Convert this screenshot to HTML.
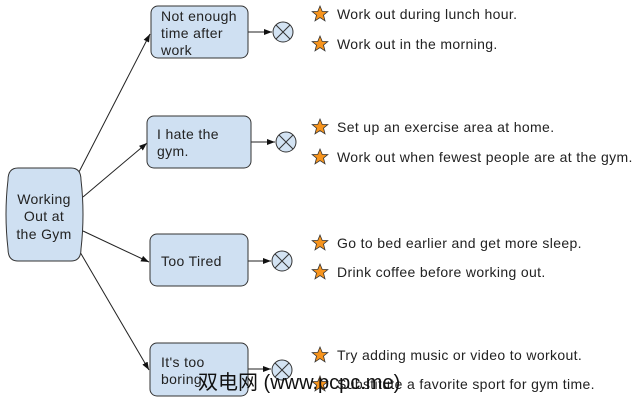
<!DOCTYPE html>
<html><head><meta charset="utf-8"><style>
html,body{margin:0;padding:0;background:#fff;width:640px;height:404px;overflow:hidden}
text{font-family:"Liberation Sans",sans-serif;font-size:14px;letter-spacing:0.35px;fill:#222}
</style></head><body>
<svg width="640" height="404" viewBox="0 0 640 404" xmlns="http://www.w3.org/2000/svg">
<defs>
<marker id="a" markerWidth="8" markerHeight="6" refX="8" refY="3" orient="auto" markerUnits="userSpaceOnUse"><path d="M0,0 L8,3 L0,6 Z" fill="#111"/></marker>
<path id="st" d="M0,-8 L2.2,-2.6 L7.8,-2.4 L3.5,1.1 L5,6.8 L0,3.6 L-5,6.8 L-3.5,1.1 L-7.8,-2.4 L-2.2,-2.6 Z" fill="#f7941d" stroke="#333" stroke-width="0.8"/>
<g id="cx"><circle r="10" fill="#d3e3f3" stroke="#333" stroke-width="1"/><path d="M-7,-7 L7,7 M7,-7 L-7,7" stroke="#333" stroke-width="1"/></g>
</defs>
<g stroke="#222" stroke-width="1" fill="none">
<line x1="79" y1="172" x2="150" y2="34" marker-end="url(#a)"/>
<line x1="83" y1="197" x2="147" y2="143" marker-end="url(#a)"/>
<line x1="83" y1="231" x2="149" y2="262" marker-end="url(#a)"/>
<line x1="80" y1="252" x2="149" y2="370" marker-end="url(#a)"/>
<line x1="248" y1="32" x2="272" y2="32" marker-end="url(#a)"/>
<line x1="251" y1="142" x2="275" y2="142" marker-end="url(#a)"/>
<line x1="248" y1="261" x2="271" y2="261" marker-end="url(#a)"/>
<line x1="248" y1="369" x2="271" y2="369" marker-end="url(#a)"/>
</g>
<path d="M18,168 H71 Q81,168 81,180 Q85,214 81,249 Q81,261 71,261 H18 Q8,261 8,249 Q4,214 8,180 Q8,168 18,168 Z" fill="#cfe0f2" stroke="#333"/>
<text x="44" y="204" text-anchor="middle">Working</text>
<text x="44" y="221" text-anchor="middle">Out at</text>
<text x="44" y="239" text-anchor="middle">the Gym</text>
<g fill="#cfe0f2" stroke="#333">
<rect x="151" y="6" width="97" height="52" rx="7"/>
<rect x="147" y="116" width="104" height="52" rx="7"/>
<rect x="150" y="234" width="98" height="52" rx="7"/>
<rect x="150" y="343" width="98" height="53" rx="7"/>
</g>
<text x="161" y="21">Not enough</text>
<text x="161" y="38">time after</text>
<text x="161" y="55">work</text>
<text x="157" y="139">I hate the</text>
<text x="157" y="156">gym.</text>
<text x="161" y="266">Too Tired</text>
<text x="161" y="367">It's too</text>
<text x="161" y="384">boring</text>
<use href="#cx" x="283" y="32"/>
<use href="#cx" x="286" y="142"/>
<use href="#cx" x="282" y="261"/>
<use href="#cx" x="282" y="370"/>
<use href="#st" x="320" y="14"/><text x="337" y="19">Work out during lunch hour.</text>
<use href="#st" x="320" y="44"/><text x="337" y="49">Work out in the morning.</text>
<use href="#st" x="320" y="127"/><text x="337" y="132">Set up an exercise area at home.</text>
<use href="#st" x="320" y="157"/><text x="337" y="162">Work out when fewest people are at the gym.</text>
<use href="#st" x="320" y="243"/><text x="337" y="248">Go to bed earlier and get more sleep.</text>
<use href="#st" x="320" y="272"/><text x="337" y="277">Drink coffee before working out.</text>
<use href="#st" x="320" y="355"/><text x="337" y="360">Try adding music or video to workout.</text>
<use href="#st" x="320" y="384"/><text x="337" y="389">Substitute a favorite sport for gym time.</text>
<text x="198" y="389" style="font-family:'Liberation Sans','Noto Sans CJK SC',sans-serif;font-size:20px;letter-spacing:0;fill:#111">双电网 (www.pcpc.me)</text>
</svg>
</body></html>
